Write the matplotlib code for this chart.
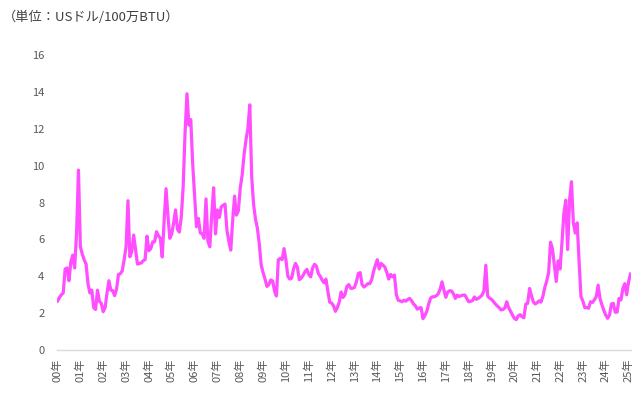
import matplotlib
matplotlib.use("Agg")
from matplotlib import pyplot as plt

# monthly price, Jan 2000 .. Feb 2025 (USD / MMBtu)
p2000 = [2.66, 2.85, 3.0, 3.1, 4.4, 4.45, 3.76, 4.79, 5.15, 4.45, 6.34, 9.76]
p2001 = [5.6, 5.2, 4.9, 4.66, 3.6, 3.1, 3.25, 2.3, 2.2, 3.25, 2.65, 2.53]
p2002 = [2.08, 2.3, 3.1, 3.76, 3.25, 3.22, 2.95, 3.3, 4.1, 4.14, 4.3, 4.9]
p2003 = [5.6, 8.1, 5.06, 5.33, 6.24, 5.45, 4.66, 4.70, 4.72, 4.85, 4.9, 6.18]
p2004 = [5.39, 5.5, 5.87, 5.87, 6.42, 6.2, 6.06, 5.05, 7.0, 8.75, 7.3, 6.06]
p2005 = [6.3, 6.9, 7.6, 6.55, 6.4, 7.2, 8.85, 11.8, 13.9, 12.2, 12.5, 10.1]
p2006 = [8.4, 6.69, 7.14, 6.35, 6.3, 6.06, 8.2, 5.9, 5.6, 7.3, 8.8, 6.3]
p2007 = [7.6, 7.2, 7.77, 7.85, 7.92, 6.5, 5.9, 5.42, 7.0, 8.35, 7.32, 7.55]
p2008 = [8.8, 9.5, 10.6, 11.4, 12.0, 13.3, 9.4, 7.9, 7.1, 6.6, 5.75, 4.6]
p2009 = [4.2, 3.85, 3.45, 3.55, 3.8, 3.75, 3.2, 2.93, 4.9, 4.97, 4.9, 5.5]
p2010 = [4.88, 4.0, 3.85, 3.9, 4.4, 4.7, 4.5, 3.82, 3.9, 4.05, 4.25, 4.38]
p2011 = [4.1, 3.97, 4.45, 4.65, 4.55, 4.16, 4.0, 3.8, 3.65, 3.85, 3.2, 2.6]
p2012 = [2.55, 2.4, 2.1, 2.3, 2.6, 3.15, 2.85, 3.0, 3.45, 3.55, 3.35, 3.35]
p2013 = [3.4, 3.7, 4.15, 4.2, 3.55, 3.42, 3.5, 3.6, 3.6, 3.8, 4.25, 4.6]
p2014 = [4.9, 4.4, 4.7, 4.6, 4.5, 4.2, 3.85, 4.1, 3.97, 4.07, 3.0, 2.7]
p2015 = [2.67, 2.62, 2.7, 2.65, 2.75, 2.8, 2.68, 2.5, 2.4, 2.22, 2.28, 2.3]
p2016 = [1.7, 1.88, 2.1, 2.5, 2.82, 2.89, 2.89, 2.95, 3.05, 3.3, 3.7, 3.25]
p2017 = [2.86, 3.15, 3.22, 3.2, 3.05, 2.8, 2.98, 2.9, 2.95, 2.98, 2.98, 2.8]
p2018 = [2.62, 2.65, 2.68, 2.88, 2.75, 2.8, 2.88, 2.98, 3.2, 4.6, 2.92, 2.82]
p2019 = [2.75, 2.63, 2.5, 2.39, 2.3, 2.18, 2.2, 2.28, 2.62, 2.3, 2.1, 1.9]
p2020 = [1.72, 1.65, 1.85, 1.92, 1.81, 1.75, 2.5, 2.53, 3.34, 2.95, 2.6, 2.5]
p2021 = [2.57, 2.67, 2.6, 2.92, 3.4, 3.75, 4.2, 5.85, 5.5, 4.6, 3.72, 4.84]
p2022 = [4.4, 5.8, 7.4, 8.13, 5.45, 8.13, 9.13, 6.9, 6.35, 6.9, 4.8, 2.9]
p2023 = [2.65, 2.3, 2.3, 2.27, 2.62, 2.58, 2.72, 2.89, 3.52, 2.8, 2.45, 2.15]
p2024 = [1.9, 1.72, 1.9, 2.5, 2.53, 2.05, 2.06, 2.8, 2.72, 3.34, 3.6, 3.0]
p2025 = [3.7, 4.12]

prices = (p2000 + p2001 + p2002 + p2003 + p2004 + p2005 + p2006 + p2007 + p2008
          + p2009 + p2010 + p2011 + p2012 + p2013 + p2014 + p2015 + p2016 + p2017
          + p2018 + p2019 + p2020 + p2021 + p2022 + p2023 + p2024 + p2025)
year_labels = ["%02d年" % y for y in range(0, 26)]

plt.rcParams['font.family'] = ['Noto Sans CJK JP', 'DejaVu Sans']
txt = "#595959"

fig = plt.figure(figsize=(6.4, 3.96), dpi=100)
ax = fig.add_axes([0.089, 0.116, 0.897, 0.745])

ax.plot(range(len(prices)), prices, color="#FF4DFF", lw=2.3, solid_joinstyle="round")

ax.set_ylim(0, 16)
ax.set_yticks(range(0, 17, 2))
ax.set_xlim(-0.3, len(prices) - 0.7)
ax.set_xticks([12 * k for k in range(len(year_labels))])
ax.set_xticklabels(year_labels, rotation=90)

ax.tick_params(axis="both", length=0, labelsize=8, labelcolor=txt)
ax.tick_params(axis="y", pad=9)
ax.tick_params(axis="x", pad=6)

for s in ["top", "right", "left"]:
    ax.spines[s].set_visible(False)
ax.spines["bottom"].set_color("#d9d9d9")
ax.spines["bottom"].set_linewidth(1)

fig.text(0.005, 0.955, "（単位：USドル/100万BTU）", fontsize=9.5, color="#404040", va="center")

fig.savefig("out.png", dpi=100)
